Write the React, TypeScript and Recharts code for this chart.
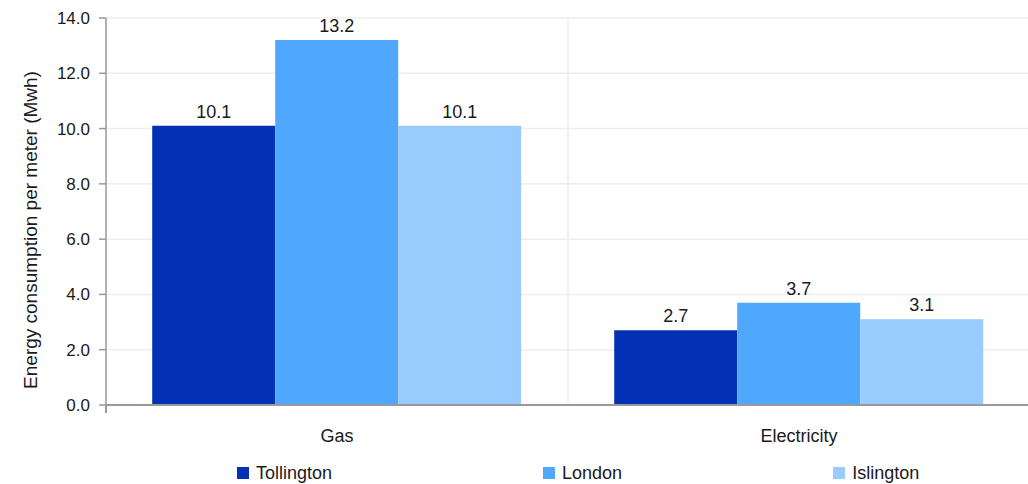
import React from 'react'
import {
  BarChart, Bar, XAxis, YAxis, CartesianGrid, Legend, LabelList
} from 'recharts'

const categories = ['Gas', 'Electricity']
const tollington = [10.1, 2.7]
const london = [13.2, 3.7]
const islington = [10.1, 3.1]
const yTicks = [0, 2, 4, 6, 8, 10, 12, 14]
// boundaries between categories, used for the vertical grid and the axis ticks
const boundaryTicks = [0, 1, 2]

const seriesList = [
  { key: 'Tollington', values: tollington, color: '#0431b3' },
  { key: 'London', values: london, color: '#4fa7fe' },
  { key: 'Islington', values: islington, color: '#99cbfe' },
]

const data = categories.map((name, i) => {
  const row: any = { name }
  seriesList.forEach(s => { row[s.key] = s.values[i] })
  return row
})

const FONT = 'Liberation Sans, Arial, Helvetica, sans-serif'
const TEXT = '#1a1a1a'

const LegendContent = () => (
  <div style={{
    display: 'flex', gap: 211, paddingLeft: 237, paddingTop: 16, height: 38,
    boxSizing: 'border-box', fontFamily: FONT, fontSize: 18, color: TEXT,
  }}>
    {seriesList.map(s => (
      <div key={s.key} style={{ display: 'flex', alignItems: 'center' }}>
        <span style={{ width: 12, height: 12, background: s.color, marginRight: 7, display: 'inline-block' }} />
        <span>{s.key}</span>
      </div>
    ))}
  </div>
)

const YLabel = () => (
  <text
    transform="translate(30,230) rotate(-90)"
    textAnchor="middle" dominantBaseline="central"
    fontFamily={FONT} fontSize={19} fill={TEXT}
  >
    Energy consumption per meter (Mwh)
  </text>
)

// vertical grid lines sit on the category boundaries, not the centres
const boundaryGrid = (props: any) => {
  const { offset } = props
  const max = boundaryTicks[boundaryTicks.length - 1]
  return boundaryTicks
    .slice(1, -1)
    .map(t => offset.left + (offset.width * t) / max)
}

export default function App() {
  return (
    <div style={{ position: 'absolute', left: 0, top: 0 }}>
      <BarChart
        width={1030} height={484} data={data}
        margin={{ top: 18, right: 0, left: 0, bottom: 0 }}
        barCategoryGap="10%" barGap={0}
      >
        <CartesianGrid stroke="#eeeeee" strokeWidth={1.5} verticalCoordinatesGenerator={boundaryGrid} />
        <XAxis
          type="number" domain={[0, 2]} ticks={boundaryTicks}
          height={1} tickSize={8} tickFormatter={() => ''}
          axisLine={{ stroke: '#999999', strokeWidth: 2 }}
          tickLine={{ stroke: '#999999', strokeWidth: 2 }}
        />
        <XAxis
          xAxisId="cat" dataKey="name" height={40} axisLine={false} tickLine={false}
          tickMargin={17}
          tick={{ fontSize: 18, fill: TEXT, fontFamily: FONT }}
        />
        <YAxis
          domain={[0, 14]} ticks={yTicks} width={106}
          tickSize={7} tickMargin={9}
          tickFormatter={(v: number) => v.toFixed(1)}
          tick={{ fontSize: 17, fill: TEXT, fontFamily: FONT }}
          axisLine={{ stroke: '#999999', strokeWidth: 1.5 }}
          tickLine={{ stroke: '#999999', strokeWidth: 1.5 }}
          label={<YLabel />}
        />
        <Legend verticalAlign="bottom" content={<LegendContent />} wrapperStyle={{ left: 0, width: 1028 }} />
        {seriesList.map(s => (
          <Bar key={s.key} xAxisId="cat" dataKey={s.key} fill={s.color} isAnimationActive={false}>
            <LabelList
              dataKey={s.key} position="top" offset={8}
              formatter={(v: any) => Number(v).toFixed(1)}
              style={{ fontSize: 18, fill: TEXT, fontFamily: FONT }}
            />
          </Bar>
        ))}
      </BarChart>
    </div>
  )
}
